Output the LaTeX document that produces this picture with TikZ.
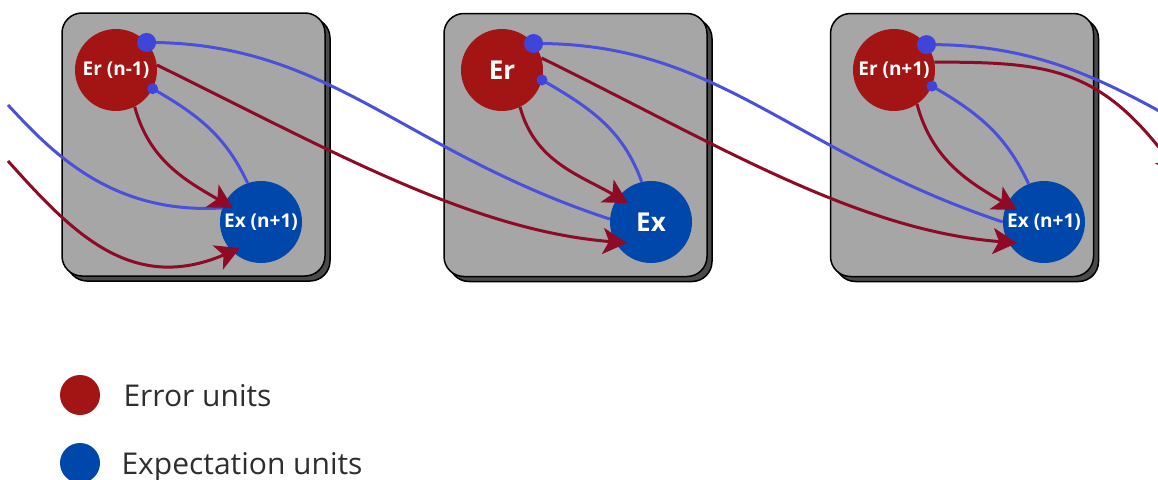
\documentclass[tikz,border=0pt]{standalone}
\usepackage{fontspec}
\setmainfont{Open Sans}
\usetikzlibrary{arrows.meta,shadows,calc}

\definecolor{panel}{HTML}{A6A6A6}
\definecolor{panelshadow}{HTML}{4A4A4A}
\definecolor{errfill}{HTML}{A31515}
\definecolor{expfill}{HTML}{0047AB}
\definecolor{errline}{HTML}{8E0A26}
\definecolor{expline}{HTML}{4A50DC}
\definecolor{dotblue}{HTML}{3F45DA}
\definecolor{legendtext}{HTML}{2E2E2E}

\tikzset{
  panelbox/.style={draw=black, line width=1.5pt, fill=panel, rounded corners=20pt,
    minimum width=263pt, minimum height=263pt, inner sep=0pt,
    copy shadow={shadow xshift=5pt, shadow yshift=-5pt, fill=panelshadow, draw=black, line width=1.5pt}},
  unitbase/.style={circle, minimum size=82pt, inner sep=0pt, text=white,
    font=\bfseries\fontsize{19}{19}\selectfont},
  errunit/.style={unitbase, fill=errfill},
  expunit/.style={unitbase, fill=expfill},
  bigfont/.style={font=\bfseries\fontsize{26}{26}\selectfont},
  bigdot/.style={circle, fill=dotblue, minimum size=19pt, inner sep=0pt},
  smalldot/.style={circle, fill=dotblue, minimum size=11pt, inner sep=0pt},
  excite/.style={draw=errline, line width=3pt, -{Stealth[length=24pt,width=26pt,inset=6pt]}},
  inhib/.style={draw=expline, line width=3pt},
  legenddot/.style={circle, minimum size=40pt, inner sep=0pt},
  legendlabel/.style={anchor=base west, text=legendtext, font=\fontsize{30}{30}\selectfont},
}

\begin{document}
\begin{tikzpicture}[x=1pt,y=-1pt]
\clip (0,0) rectangle (1158,479);

% panels
\node[panelbox] (box1) at (193.5,144.5) {};
\node[panelbox] (box2) at (575.5,145) {};
\node[panelbox] (box3) at (962,145) {};

% units
\node[errunit] (Er1) at (116,70) {Er (n-1)};
\node[expunit] (Ex1) at (261,222) {Ex (n+1)};
\node[errunit, bigfont] (Er2) at (502,70) {Er};
\node[expunit, bigfont] (Ex2) at (651,222) {Ex};
\node[errunit] (Er3) at (894,70) {Er (n+1)};
\node[expunit] (Ex3) at (1044,222) {Ex (n+1)};

% arrow tip targets inside the expectation units
\coordinate (t1a) at ($(Ex1)+(-21,26)$);
\coordinate (t1b) at ($(Ex1)+(-28,-14)$);
\coordinate (t2a) at ($(Ex2)+(-24,21)$);
\coordinate (t2b) at ($(Ex2)+(-23,-19)$);
\coordinate (t3a) at ($(Ex3)+(-27,21)$);
\coordinate (t3b) at ($(Ex3)+(-27,-12)$);

% loose ends entering and leaving the chain
\coordinate (inB) at (8,105);
\coordinate (inR) at (8,161);
\coordinate (outB) at (1392,225);
\coordinate (outR) at (1180,175);

% inhibitory dots on the error units
\coordinate (b1) at (Er1.42);
\coordinate (b2) at (Er2.40);
\coordinate (b3) at (Er3.38);
\coordinate (s1) at (Er1.-27);
\coordinate (s2) at (Er2.-14);
\coordinate (s3) at (Er3.-23);

% incoming connections
\draw[inhib] (inB) .. controls (50,150) and (110,215) .. (Ex1.160);
\draw[excite] (inR) .. controls (70,230) and (130,295) .. (t1a);

% within each panel
\draw[excite] (Er1.-63) to[out=-75,in=150] (t1b);
\draw[inhib] (s1) to[out=-30,in=115] (Ex1.109);
\draw[excite] (Er2.-64) to[out=-75,in=150] (t2b);
\draw[inhib] (s2) to[out=-30,in=110] (Ex2.103);
\draw[excite] (Er3.-56) to[out=-75,in=150] (t3b);
\draw[inhib] (s3) to[out=-30,in=115] (Ex3.112);

% panel to panel
\draw[inhib] (b1) .. controls (330,42) and (400,150) .. (Ex2.176);
\draw[excite] (Er1.7) .. controls (330,150) and (470,230) .. (t2a);
\draw[inhib] (b2) .. controls (718,42) and (788,150) .. (Ex3.180);
\draw[excite] (Er2.17) .. controls (715,143) and (855,230) .. (t3a);

% outgoing connections
\draw[inhib] (b3) .. controls (1112,43) and (1182,150) .. (outB);
\draw[excite] (Er3.11) .. controls (1050,62) and (1100,68) .. (outR);

% dots on top
\node[bigdot] (d1) at (b1) {};
\node[bigdot] (d2) at (b2) {};
\node[bigdot] (d3) at (b3) {};
\node[smalldot] (e1) at (s1) {};
\node[smalldot] (e2) at (s2) {};
\node[smalldot] (e3) at (s3) {};

% legend
\node[legenddot, fill=errfill] (legErr) at (80,395) {};
\node[legendlabel] (legErrText) at (120,406) {Error units};
\node[legenddot, fill=expfill] (legExp) at (80,463) {};
\node[legendlabel] (legExpText) at (118,474) {Expectation units};
\end{tikzpicture}
\end{document}
